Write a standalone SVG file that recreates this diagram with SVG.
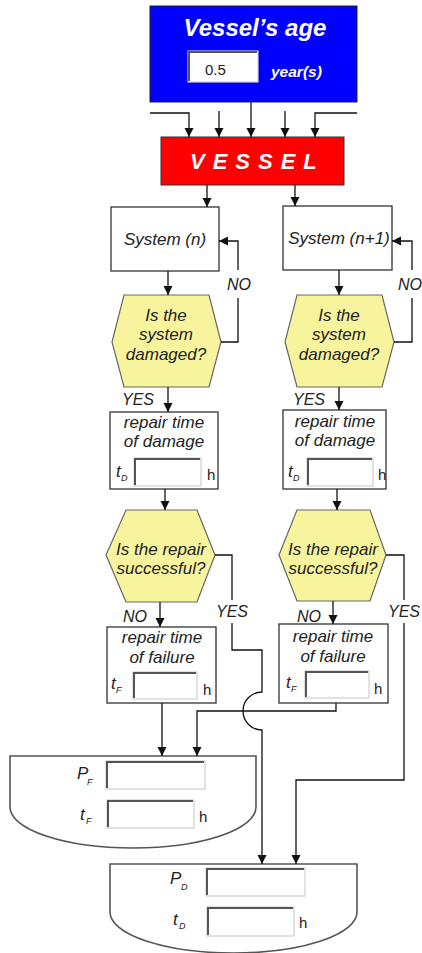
<svg xmlns="http://www.w3.org/2000/svg" width="422" height="953" viewBox="0 0 422 953">
<style>
text{font-family:"Liberation Sans",Arial,sans-serif;fill:#222}
.it{font-style:italic;font-size:17px}
.lbl{font-style:italic;font-size:16px}
.sub{font-style:italic;font-size:9px}
.h{font-size:15px}
.box{fill:#fff;stroke:#333;stroke-width:1.3}
.hex{fill:#f8f49e;stroke:#666;stroke-width:1.2}
.cap{fill:#fff;stroke:#555;stroke-width:1.6}
.in{fill:#fff;stroke:#cfcfcf;stroke-width:1.2}
.ind{fill:none;stroke:#555;stroke-width:2}
.con path{fill:none;stroke:#111;stroke-width:1.3}
.w{fill:#fff;font-weight:bold;font-style:italic}
</style>
<defs>
<marker id="ar" viewBox="0 0 10 10" refX="10" refY="5" markerWidth="9" markerHeight="10" markerUnits="userSpaceOnUse" orient="auto">
<path d="M0,0 L10,5 L0,10 z" fill="#111"/>
</marker>
</defs>

<g id="age">
<rect x="150" y="6" width="207" height="96" fill="#0000ff" stroke="#222" stroke-width="1"/>
<text x="255" y="36" text-anchor="middle" class="w" font-size="24">Vessel’s age</text>
<rect x="188" y="51" width="70" height="31" class="in"/>
<polyline points="189,81 189,52 257,52" class="ind"/>
<text x="205" y="75" font-size="15" fill="#111">0.5</text>
<text x="271" y="77" class="w" font-size="15.5">year(s)</text>
</g>

<g id="vessel">
<rect x="161" y="137" width="183" height="48" fill="#ff0000" stroke="#333" stroke-width="1"/>
<text x="190" y="169" class="w" font-size="22" letter-spacing="8">VESSEL</text>
</g>

<g id="system-n">
<rect x="111" y="207" width="108" height="64" class="box"/>
<text x="165" y="245" text-anchor="middle" class="it">System (n)</text>
</g>
<g id="system-n1">
<rect x="283" y="206" width="109" height="64" class="box"/>
<text x="339" y="244" text-anchor="middle" class="it">System (n+1)</text>
</g>

<g id="damaged-n">
<polygon points="124,295 209,295 221,342 209,387 124,387 112,342" class="hex"/>
<text x="166" y="321" text-anchor="middle" class="it">Is the</text>
<text x="166" y="340" text-anchor="middle" class="it">system</text>
<text x="166" y="360" text-anchor="middle" class="it">damaged?</text>
</g>
<g id="damaged-n1">
<polygon points="297,295 382,295 394,342 382,387 297,387 285,342" class="hex"/>
<text x="339" y="321" text-anchor="middle" class="it">Is the</text>
<text x="339" y="340" text-anchor="middle" class="it">system</text>
<text x="339" y="360" text-anchor="middle" class="it">damaged?</text>
</g>

<g id="repair-damage-n">
<rect x="110" y="412" width="108" height="77" class="box"/>
<text x="164" y="428" text-anchor="middle" class="it">repair time</text>
<text x="164" y="447" text-anchor="middle" class="it">of damage</text>
<text x="116" y="477" class="it">t</text><text x="121" y="481" class="sub">D</text>
<rect x="134" y="458" width="67" height="28" class="in"/>
<polyline points="135,485 135,459 200,459" class="ind"/>
<text x="207" y="480" class="h">h</text>
</g>
<g id="repair-damage-n1">
<rect x="283" y="410" width="103" height="79" class="box"/>
<text x="335" y="427" text-anchor="middle" class="it">repair time</text>
<text x="335" y="446" text-anchor="middle" class="it">of damage</text>
<text x="288" y="477" class="it">t</text><text x="293" y="481" class="sub">D</text>
<rect x="307" y="458" width="66" height="28" class="in"/>
<polyline points="308,485 308,459 372,459" class="ind"/>
<text x="378" y="480" class="h">h</text>
</g>

<g id="success-n">
<polygon points="126,510 197,510 215,555 197,602 126,602 106,555" class="hex"/>
<text x="161" y="555" text-anchor="middle" class="it">Is the repair</text>
<text x="161" y="574" text-anchor="middle" class="it">successful?</text>
</g>
<g id="success-n1">
<polygon points="297,510 370,510 386,555 370,601 297,601 279,555" class="hex"/>
<text x="333" y="555" text-anchor="middle" class="it">Is the repair</text>
<text x="333" y="574" text-anchor="middle" class="it">successful?</text>
</g>

<g id="repair-failure-n">
<rect x="107" y="627" width="109" height="76" class="box"/>
<text x="162" y="643" text-anchor="middle" class="it">repair time</text>
<text x="162" y="663" text-anchor="middle" class="it">of failure</text>
<text x="111" y="689" class="it">t</text><text x="116" y="693" class="sub">F</text>
<rect x="133" y="672" width="64" height="27" class="in"/>
<polyline points="134,698 134,673 196,673" class="ind"/>
<text x="203" y="695" class="h">h</text>
</g>
<g id="repair-failure-n1">
<rect x="279" y="624" width="109" height="79" class="box"/>
<text x="333" y="642" text-anchor="middle" class="it">repair time</text>
<text x="333" y="662" text-anchor="middle" class="it">of failure</text>
<text x="286" y="688" class="it">t</text><text x="291" y="692" class="sub">F</text>
<rect x="305" y="671" width="64" height="27" class="in"/>
<polyline points="306,697 306,672 368,672" class="ind"/>
<text x="374" y="694" class="h">h</text>
</g>

<g id="result-failure">
<path d="M10,756 H256 V807 A123,41 0 0,1 10,807 Z" class="cap"/>
<text x="77" y="779" class="it">P</text><text x="87" y="785" class="sub">F</text>
<rect x="106" y="761" width="99" height="28" class="in"/>
<polyline points="107,788 107,762 204,762" class="ind"/>
<text x="80" y="820" class="it">t</text><text x="86" y="824" class="sub">F</text>
<rect x="107" y="800" width="87" height="28" class="in"/>
<polyline points="108,827 108,801 193,801" class="ind"/>
<text x="199" y="822" class="h">h</text>
</g>

<g id="result-damage">
<path d="M110,864 H357 V912 A123.5,41 0 0,1 110,912 Z" class="cap"/>
<text x="170" y="884" class="it">P</text><text x="181" y="890" class="sub">D</text>
<rect x="206" y="868" width="99" height="28" class="in"/>
<polyline points="207,895 207,869 304,869" class="ind"/>
<text x="173" y="925" class="it">t</text><text x="179" y="929" class="sub">D</text>
<rect x="207" y="907" width="87" height="29" class="in"/>
<polyline points="208,935 208,908 293,908" class="ind"/>
<text x="299" y="928" class="h">h</text>
</g>

<g class="con" id="connectors">
<path d="M150,113 H189 V137" marker-end="url(#ar)"/>
<path d="M219,111 V137" marker-end="url(#ar)"/>
<path d="M251,102 V137" marker-end="url(#ar)"/>
<path d="M285,111 V137" marker-end="url(#ar)"/>
<path d="M357,113 H315 V137" marker-end="url(#ar)"/>
<path d="M207,185 V207" marker-end="url(#ar)"/>
<path d="M295,185 V206" marker-end="url(#ar)"/>
<path d="M168,271 V295" marker-end="url(#ar)"/>
<path d="M339,270 V295" marker-end="url(#ar)"/>
<path d="M221,342 H238 V298"/>
<path d="M238,270 V241 H219" marker-end="url(#ar)"/>
<path d="M394,342 H412 V298"/>
<path d="M412,270 V241 H392" marker-end="url(#ar)"/>
<path d="M168,387 V412" marker-end="url(#ar)"/>
<path d="M339,387 V410" marker-end="url(#ar)"/>
<path d="M165,489 V510" marker-end="url(#ar)"/>
<path d="M337,489 V510" marker-end="url(#ar)"/>
<path d="M160,602 V627" marker-end="url(#ar)"/>
<path d="M333,601 V624" marker-end="url(#ar)"/>
<path d="M215,555 H232 V600"/>
<path d="M232,623 V650 H262 V692 A19,19 0 0,0 262,730 V864" marker-end="url(#ar)"/>
<path d="M386,555 H404 V600"/>
<path d="M404,623 V780 H296 V864" marker-end="url(#ar)"/>
<path d="M162,703 V756" marker-end="url(#ar)"/>
<path d="M336,703 V711 H197 V756" marker-end="url(#ar)"/>
<text x="227" y="290" class="lbl">NO</text>
<text x="398" y="290" class="lbl">NO</text>
<text x="122" y="405" class="lbl">YES</text>
<text x="293" y="405" class="lbl">YES</text>
<text x="123" y="622" class="lbl">NO</text>
<text x="216" y="617" class="lbl">YES</text>
<text x="297" y="622" class="lbl">NO</text>
<text x="388" y="617" class="lbl">YES</text>
</g>
</svg>
